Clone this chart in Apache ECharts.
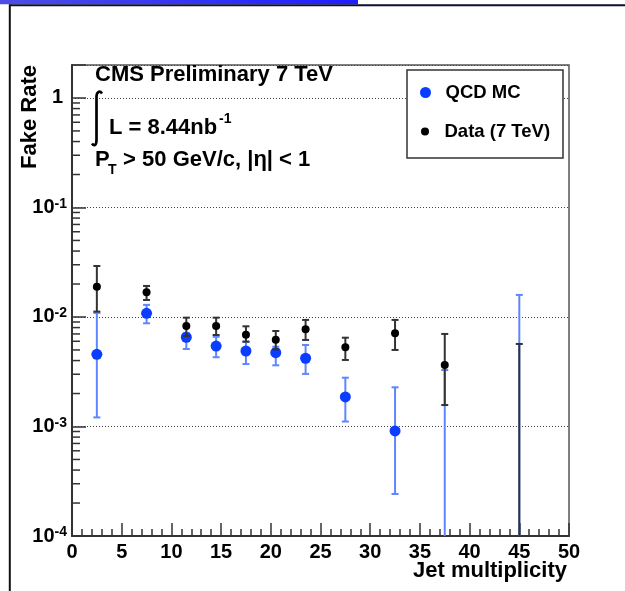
<!DOCTYPE html>
<html>
<head>
<meta charset="utf-8">
<script src="https://cdn.jsdelivr.net/npm/echarts@6/dist/echarts.min.js"></script>
<style>
  html, body { margin: 0; padding: 0; background: #ffffff; }
  #chart { width: 625px; height: 591px; }
</style>
</head>
<body>
<div id="chart"></div>
<script>
// ---- data ----
const jetMultiplicity = [2.5, 7.5, 11.5, 14.5, 17.5, 20.5, 23.5, 27.5, 32.5, 37.5, 45];

const qcdRate = [0.00456, 0.0108, 0.00653, 0.00543, 0.00489, 0.00472, 0.0042, 0.00186, 0.00091, null, null];
const qcdLow  = [0.00121, 0.00876, 0.0051, 0.00429, 0.00372, 0.00362, 0.00302, 0.00111, 0.000242, null, null];
const qcdHigh = [0.0109, 0.0129, 0.0071, 0.0066, 0.00595, 0.00535, 0.00555, 0.00279, 0.00228, 0.00328, 0.0159];

const dataRate = [0.0189, 0.0168, 0.00828, 0.00828, 0.00689, 0.0062, 0.00773, 0.00529, 0.0071, 0.00365, null];
const dataLow  = [0.0112, 0.0143, 0.0067, 0.00685, 0.00595, 0.00507, 0.00617, 0.00405, 0.005, 0.00157, null];
const dataHigh = [0.0292, 0.0192, 0.00986, 0.00986, 0.00822, 0.00745, 0.0094, 0.00647, 0.0094, 0.0070, 0.00567];

const xTickLabels = ['0', '5', '10', '15', '20', '25', '30', '35', '40', '45', '50'];
const yDecades = [-4, -3, -2, -1, 0];
const yMinorMultipliers = [2, 3, 4, 5, 6, 7, 8, 9];

const X_MIN = 0, X_MAX = 50;
const Y_MIN = 1e-4, Y_MAX = 2;

// ---- styles ----
const FONT = '"Liberation Sans", Arial, Helvetica, sans-serif';
const MC_MARK = '#0b3dff';
const MC_BAR = '#5e86ff';
const DATA_MARK = '#000000';
const DATA_BAR = '#333333';

const chart = echarts.init(document.getElementById('chart'), null, { renderer: 'canvas' });

function pts(xs, ys) {
  const out = [];
  xs.forEach((x, i) => { if (ys[i] != null) out.push([x, ys[i]]); });
  return out;
}
function errs(xs, lo, hi) {
  const out = [];
  xs.forEach((x, i) => {
    if (hi[i] == null) return;
    out.push([x, lo[i] == null ? Y_MIN : lo[i], hi[i], lo[i] == null ? 0 : 1]);
  });
  return out;
}
function errRender(color) {
  return function (params, api) {
    const x = api.value(0);
    const top = api.coord([x, api.value(2)]);
    const bot = api.coord([x, api.value(1)]);
    const capLow = api.value(3);
    const st = { stroke: color, lineWidth: 2 };
    const ch = [
      { type: 'line', shape: { x1: top[0], y1: top[1], x2: bot[0], y2: bot[1] }, style: st },
      { type: 'line', shape: { x1: top[0] - 3.5, y1: top[1], x2: top[0] + 3.5, y2: top[1] }, style: st }
    ];
    if (capLow) ch.push({ type: 'line', shape: { x1: bot[0] - 3.5, y1: bot[1], x2: bot[0] + 3.5, y2: bot[1] }, style: st });
    return { type: 'group', children: ch };
  };
}

const minorTickVals = [];
yDecades.forEach(e => yMinorMultipliers.forEach(m => {
  const v = m * Math.pow(10, e);
  if (v < Y_MAX) minorTickVals.push([X_MIN, v]);
}));

function yLabel(v) {
  const e = Math.round(Math.log10(v));
  if (Math.abs(Math.log10(v) - e) > 1e-6) return '';
  if (!yDecades.includes(e)) return '';
  if (e === 0) return '{o|1}';
  return '{b|10}{s|' + e + '}';
}

const option = {
  animation: false,
  backgroundColor: '#ffffff',
  grid: { left: 72, right: 56, top: 65, bottom: 55, show: true, borderColor: '#555', borderWidth: 1.5 },
  xAxis: {
    type: 'value', min: X_MIN, max: X_MAX, interval: 5,
    axisLine: { show: true, lineStyle: { color: '#333', width: 2 } },
    axisTick: { show: true, inside: true, length: 13, lineStyle: { color: '#333', width: 1.5 } },
    minorTick: { show: true, splitNumber: 5, length: 7, lineStyle: { color: '#333', width: 1.5 } },
    splitLine: { show: false },
    axisLabel: {
      margin: 6, color: '#000', fontFamily: FONT, fontWeight: 'bold', fontSize: 20,
      formatter: v => xTickLabels[Math.round(v / 5)] || ''
    }
  },
  yAxis: {
    type: 'log', logBase: 10, min: Y_MIN, max: Y_MAX,
    axisLine: { show: true, lineStyle: { color: '#333', width: 2 } },
    axisTick: { show: true, inside: true, length: 14, lineStyle: { color: '#333', width: 1.5 } },
    splitLine: { show: true, lineStyle: { color: '#444', width: 1, type: [1, 2] } },
    axisLabel: {
      margin: 5, color: '#000', formatter: yLabel,
      rich: {
        b: { fontFamily: FONT, fontWeight: 'bold', fontSize: 20, lineHeight: 21 },
        s: { fontFamily: FONT, fontWeight: 'bold', fontSize: 14, lineHeight: 14, verticalAlign: 'top' },
        o: { fontFamily: FONT, fontWeight: 'bold', fontSize: 20, lineHeight: 21, padding: [0, 4, 0, 0] }
      }
    }
  },
  legend: [
    {
      data: [{ name: 'QCD MC', icon: 'circle' }], selectedMode: false, z: 10,
      left: 420, top: 83, padding: 0, itemWidth: 22, itemHeight: 11, itemGap: 0,
      textStyle: { color: '#000', fontFamily: FONT, fontWeight: 'bold', fontSize: 18.5, padding: [0, 0, 0, 4] }
    },
    {
      data: [{ name: 'Data (7 TeV)', icon: 'circle' }], selectedMode: false, z: 10,
      left: 421, top: 122, padding: 0, itemWidth: 21, itemHeight: 8, itemGap: 0,
      textStyle: { color: '#000', fontFamily: FONT, fontWeight: 'bold', fontSize: 18.5, padding: [0, 0, 0, 4] }
    }
  ],
  graphic: [
    { type: 'rect', z: 1, shape: { x: 0, y: 0, width: 358, height: 4.3 },
      style: { fill: new echarts.graphic.LinearGradient(0, 0, 1, 0, [{ offset: 0, color: '#4d4de6' }, { offset: 1, color: '#1e1eff' }]) } },
    { type: 'line', z: 1, shape: { x1: 9, y1: 5.2, x2: 625, y2: 5.2 }, style: { stroke: '#0d0d38', lineWidth: 2 } },
    { type: 'line', z: 1, shape: { x1: 9.8, y1: 4.5, x2: 9.8, y2: 591 }, style: { stroke: '#111', lineWidth: 2 } },
    { type: 'rect', z: 3, shape: { x: 407, y: 70, width: 156, height: 88 }, style: { fill: '#fff', stroke: '#333', lineWidth: 1.5 } },
    { type: 'text', z: 5, x: 95, y: 75, style: { text: 'CMS Preliminary 7 TeV', fill: '#000', font: 'bold 22px ' + FONT, align: 'left', verticalAlign: 'middle' } },
    { type: 'bezierCurve', z: 5, shape: { x1: 102, y1: 93.5, cpx1: 99.5, cpy1: 90, cpx2: 96.5, cpy2: 92, x2: 96.5, y2: 97 },
      style: { stroke: '#000', lineWidth: 2.7, fill: null } },
    { type: 'line', z: 5, shape: { x1: 96.5, y1: 97, x2: 96.5, y2: 140 }, style: { stroke: '#000', lineWidth: 2.7 } },
    { type: 'bezierCurve', z: 5, shape: { x1: 96.5, y1: 140, cpx1: 96.5, cpy1: 145.5, cpx2: 94, cpy2: 146.5, x2: 92, y2: 143.5 },
      style: { stroke: '#000', lineWidth: 2.7, fill: null } },
    { type: 'text', z: 5, x: 109, y: 127.5, style: { text: 'L = 8.44nb', fill: '#000', font: 'bold 22px ' + FONT, align: 'left', verticalAlign: 'middle' } },
    { type: 'text', z: 5, x: 219, y: 119, style: { text: '-1', fill: '#000', font: 'bold 14px ' + FONT, align: 'left', verticalAlign: 'middle' } },
    { type: 'text', z: 5, x: 95, y: 159.5, style: { text: 'P', fill: '#000', font: 'bold 22px ' + FONT, align: 'left', verticalAlign: 'middle' } },
    { type: 'text', z: 5, x: 108, y: 170, style: { text: 'T', fill: '#000', font: 'bold 14px ' + FONT, align: 'left', verticalAlign: 'middle' } },
    { type: 'text', z: 5, x: 117, y: 159.5, style: { text: ' > 50 GeV/c, |η| < 1', fill: '#000', font: 'bold 22px ' + FONT, align: 'left', verticalAlign: 'middle' } },
    { type: 'text', z: 5, x: 567, y: 571, style: { text: 'Jet multiplicity', fill: '#000', font: 'bold 22px ' + FONT, align: 'right', verticalAlign: 'middle' } },
    { type: 'text', z: 5, x: 30, y: 65, rotation: Math.PI / 2, style: { text: 'Fake Rate', fill: '#000', font: 'bold 22px ' + FONT, align: 'right', verticalAlign: 'middle' } }
  ],
  series: [
    {
      name: 'y minor ticks', type: 'custom', silent: true, clip: false, z: 1,
      data: minorTickVals,
      renderItem: function (params, api) {
        const p = api.coord([api.value(0), api.value(1)]);
        return { type: 'line', shape: { x1: p[0], y1: p[1], x2: p[0] + 8, y2: p[1] }, style: { stroke: '#333', lineWidth: 1.5 } };
      }
    },
    { name: 'QCD MC errors', type: 'custom', silent: true, clip: true, z: 2, data: errs(jetMultiplicity, qcdLow, qcdHigh), renderItem: errRender(MC_BAR) },
    { name: 'QCD MC', type: 'scatter', symbol: 'circle', symbolSize: 11, z: 3, itemStyle: { color: MC_MARK, opacity: 1 }, data: pts(jetMultiplicity, qcdRate) },
    { name: 'Data errors', type: 'custom', silent: true, clip: true, z: 4, data: errs(jetMultiplicity, dataLow, dataHigh), renderItem: errRender(DATA_BAR) },
    { name: 'Data (7 TeV)', type: 'scatter', symbol: 'circle', symbolSize: 8, z: 5, itemStyle: { color: DATA_MARK, opacity: 1 }, data: pts(jetMultiplicity, dataRate) }
  ]
};
chart.setOption(option);
</script>
</body>
</html>
